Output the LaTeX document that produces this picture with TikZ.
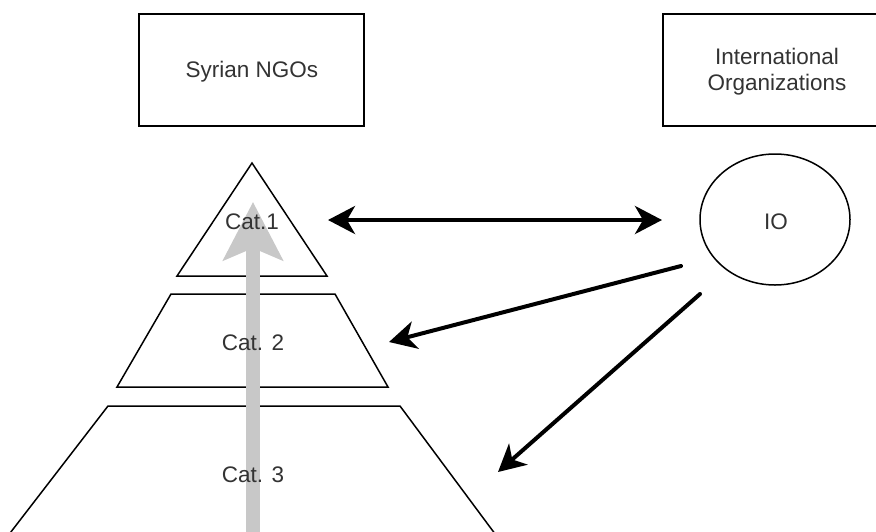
\documentclass[tikz,border=0pt]{standalone}
\usepackage{fontspec}
\setmainfont{Liberation Sans}
\usetikzlibrary{arrows.meta}
\definecolor{txt}{HTML}{333333}
\definecolor{shaft}{HTML}{C8C8C8}
\tikzset{
  outline/.style={draw=black, line width=1.5pt, fill=white},
  lbl/.style={text=txt, font=\fontsize{22.5}{26}\selectfont, inner sep=0pt, align=center},
  link/.style={line width=4pt, line cap=round,
    -{Stealth[length=27pt, width=28pt, inset=8pt]}},
  rise/.style={line width=14pt, draw=shaft,
    -{Stealth[length=58pt, width=59pt, inset=12pt]}}
}
\begin{document}
\begin{tikzpicture}[x=1pt, y=-1pt]
  \useasboundingbox (0,0) rectangle (876,531);
  \clip (0,0) rectangle (876,531);

  % header boxes
  \draw[outline] (139,14) rectangle (364,126);
  \draw[outline] (663,14) rectangle (891,126);
  \node[lbl] (ngo) at (252,72) {Syrian NGOs};
  \node[lbl] (intl) at (777,72) {International\\Organizations};

  % pyramid levels
  \draw[outline] (252,163) -- (327,276) -- (177,276) -- cycle;
  \draw[outline] (171,294) -- (335,294) -- (388,387) -- (117,387) -- cycle;
  \draw[outline] (108,406) -- (400,406) -- (507,550) -- (-3,550) -- cycle;

  % IO ellipse
  \draw[outline] (775,219.5) ellipse [x radius=75, y radius=65.5];

  % rising arrow through the pyramid
  \coordinate (base) at (253,545);
  \coordinate (peak) at (253,202);
  \draw[rise] (base) -- (peak);

  % level labels
  \node[lbl] (c1) at (252,222) {Cat.1};
  \node[lbl] (c2) at (253,343) {Cat. 2};
  \node[lbl] (c3) at (253,475) {Cat. 3};
  \node[lbl] (io) at (776,222) {IO};

  % links between IO and the levels
  \coordinate (l1) at (328,220);
  \coordinate (r1) at (662,220);
  \coordinate (s2) at (681,266);
  \coordinate (t2) at (389,342);
  \coordinate (s3) at (700,294);
  \coordinate (t3) at (498,472);
  \draw[link, {Stealth[length=27pt, width=28pt, inset=8pt]}-{Stealth[length=27pt, width=28pt, inset=8pt]}] (l1) -- (r1);
  \draw[link] (s2) -- (t2);
  \draw[link] (s3) -- (t3);
\end{tikzpicture}
\end{document}
